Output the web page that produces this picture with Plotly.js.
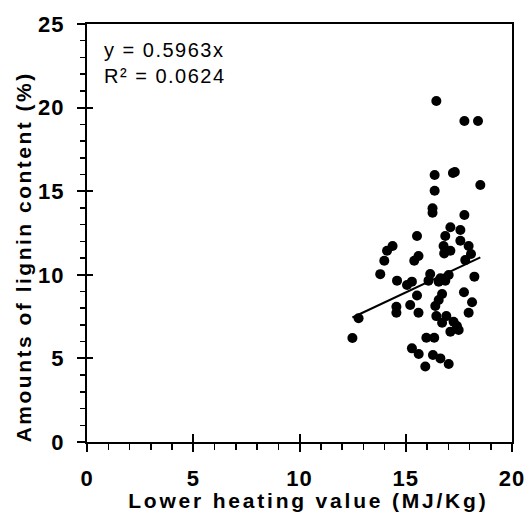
<!DOCTYPE html>
<html>
<head>
<meta charset="utf-8">
<script src="https://cdn.plot.ly/plotly-3.0.1.min.js"></script>
<style>
html,body{margin:0;padding:0;background:#fff;}
#chart{width:531px;height:514px;}
.xtick text, .ytick text {letter-spacing: 1px;}
.annotation .annotation-text {letter-spacing: 1.5px;}
.annotation[data-index="1"] .annotation-text {letter-spacing: 2.8px;}
.annotation[data-index="2"] .annotation-text {letter-spacing: 2.5px;}
</style>
</head>
<body>
<div id="chart"></div>
<script>
// Lower heating value (MJ/Kg)
const heatingValue = [16.44,17.76,18.40,16.36,17.22,17.31,18.51,16.36,16.26,16.26,17.76,17.10,17.57,16.86,15.53,14.38,14.12,17.57,17.96,16.78,17.10,16.81,18.07,17.80,15.60,15.40,13.99,13.80,14.59,15.06,15.29,16.15,16.07,16.63,17.02,16.55,16.86,18.23,17.74,16.71,15.53,18.12,12.78,12.49,14.56,14.56,15.21,15.60,16.55,16.39,17.96,16.44,16.91,16.71,17.25,17.41,17.49,17.10,15.97,16.34,15.29,15.61,16.28,16.63,15.92,17.02];
// Amounts of lignin content (%)
const ligninContent = [20.39,19.20,19.20,15.97,16.09,16.15,15.37,15.03,13.98,13.71,13.58,12.84,12.68,12.32,12.32,11.72,11.44,12.04,11.72,11.72,11.44,11.28,11.24,10.88,11.12,10.84,10.84,10.04,9.65,9.39,9.59,10.05,9.65,9.79,9.99,9.59,9.65,9.89,8.96,8.85,8.76,8.36,7.40,6.22,8.09,7.73,8.19,7.73,8.49,8.13,7.73,7.53,7.53,7.13,7.19,6.94,6.70,6.60,6.24,6.24,5.60,5.26,5.20,5.00,4.52,4.66];
const trendSlope = 0.5963;
const trendLabel = ["y = 0.5963x", "R² = 0.0624"];
const xTitle = "Lower heating value (MJ/Kg)";
const yTitle = "Amounts of lignin content (%)";

const FONT = "Liberation Sans";
const xMin = Math.min(...heatingValue), xMax = Math.max(...heatingValue);
const trendX = [xMin, xMax];
const trendY = trendX.map(v => trendSlope * v);

const data = [
  {x: heatingValue, y: ligninContent, type: 'scatter', mode: 'markers',
   marker: {color: '#000', size: 10, symbol: 'circle'}, showlegend: false, hoverinfo: 'x+y'},
  {x: trendX, y: trendY, type: 'scatter', mode: 'lines',
   line: {color: '#000', width: 2}, showlegend: false, hoverinfo: 'skip'},
  {x: [], y: [], xaxis: 'x2', yaxis: 'y', type: 'scatter', showlegend: false},
  {x: [], y: [], xaxis: 'x', yaxis: 'y2', type: 'scatter', showlegend: false}
];

const tickFont = {family: FONT, size: 22, color: '#000', weight: 'bold'};
const layout = {
  width: 531, height: 514,
  margin: {l: 87, r: 19, t: 24, b: 72, pad: 0},
  paper_bgcolor: '#fff', plot_bgcolor: '#fff',
  showlegend: false,
  xaxis: {
    range: [0, 20], tick0: 0, dtick: 5, ticks: 'outside', ticklen: 8, tickwidth: 2, tickcolor: '#000',
    showline: true, linewidth: 2, linecolor: '#000', mirror: true,
    showgrid: false, zeroline: false, tickfont: tickFont, ticklabelstandoff: 8,
    minor: {ticks: 'outside', dtick: 1, tick0: 0, ticklen: 6, tickwidth: 1.5, tickcolor: '#000', showgrid: false}
  },
  xaxis2: {
    overlaying: 'x', anchor: 'y', side: 'bottom', range: [0, 20], tick0: 0, dtick: 5,
    ticks: 'inside', ticklen: 8, tickwidth: 2, tickcolor: '#000',
    showticklabels: false, showline: false, showgrid: false, zeroline: false
  },
  yaxis: {
    range: [0, 25], tick0: 0, dtick: 5, ticks: 'outside', ticklen: 8, tickwidth: 2, tickcolor: '#000',
    showline: true, linewidth: 2, linecolor: '#000', mirror: true,
    showgrid: false, zeroline: false, tickfont: tickFont, ticklabelstandoff: 8,
    minor: {ticks: 'outside', dtick: 1, tick0: 0, ticklen: 5, tickwidth: 1.5, tickcolor: '#000', showgrid: false}
  },
  yaxis2: {
    overlaying: 'y', anchor: 'x', side: 'left', range: [0, 25], tick0: 0, dtick: 5,
    ticks: 'inside', ticklen: 6, tickwidth: 2, tickcolor: '#000',
    showticklabels: false, showline: false, showgrid: false, zeroline: false
  },
  annotations: [
    {text: trendLabel.join('<br>'), xref: 'paper', yref: 'paper', x: 0.036, y: 0.968,
     xanchor: 'left', yanchor: 'top', align: 'left', showarrow: false,
     font: {family: FONT, size: 20, color: '#000'}},
    {text: '<b>' + xTitle + '</b>', xref: 'paper', yref: 'paper', x: 0.522, y: -0.1411,
     xanchor: 'center', yanchor: 'middle', showarrow: false,
     font: {family: FONT, size: 21, color: '#000'}},
    {text: '<b>' + yTitle + '</b>', xref: 'paper', yref: 'paper', x: -0.148, y: 0.4426, textangle: -90,
     xanchor: 'center', yanchor: 'middle', showarrow: false,
     font: {family: FONT, size: 21, color: '#000'}}
  ]
};

Plotly.newPlot('chart', data, layout, {displayModeBar: false, staticPlot: true});
</script>
</body>
</html>
